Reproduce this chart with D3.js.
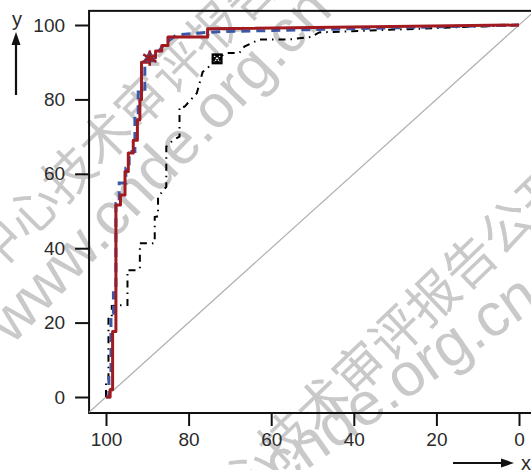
<!DOCTYPE html>
<html>
<head>
<meta charset="utf-8">
<script src="https://cdn.jsdelivr.net/npm/d3@7"></script>
<style>
  body { margin: 0; background: #fff; }
  svg { display: block; }
</style>
</head>
<body>
<div id="chart"></div>
<script>
// tick values for both axes
const xTicks = [100, 80, 60, 40, 20, 0];
const yTicks = [0, 20, 40, 60, 80, 100];

// red solid curve (x = 100 - specificity, y = sensitivity)
const redCurve = [[100,0],[99,0],[99,2],[98.4,2],[98.4,17.6],[97.6,17.6],[97.6,51.6],[96.5,51.6],
  [96.5,54.3],[95.4,54.3],[95.4,60.6],[94.6,60.6],[94.6,65.6],[93.4,65.6],[93.4,69],[92.4,69],
  [92.4,74.5],[91.8,74.5],[91.8,80],[91.4,80],[91.4,90],[89.4,90],[89.4,91.2],[88,91.2],[88,93],
  [86.5,93],[86.5,94.5],[85,94.5],[85,96.8],[75.4,96.8],[75.4,99],[0,100]];

// blue dashed curve
const blueCurve = [[100,0],[99.3,0],[99.3,6],[98.8,6],[98.8,22.5],[98.2,22.5],[98.2,28],[97.6,28],
  [97.6,52],[96.8,52],[96.8,57.5],[95.2,57.5],[95.2,61.5],[94.4,61.5],[94.4,66],[93,66],[93,76],
  [92.2,76],[92.2,82],[90.6,82],[90.6,89.5],[89.4,91],[87.5,92.5],[86.5,94],[84.5,96],[83,97.3],
  [78,97.8],[73,98.2],[0,100]];

// black dash-dot curve
const blackCurve = [[100,0],[100,4.3],[99.4,4.5],[99.4,21.6],[98.6,21.6],[98.6,24.5],[95.8,24.7],
  [94.8,24.7],[94.8,34.1],[92.6,34.1],[91.8,34.5],[91.8,41.3],[88.6,41.3],[88.2,41.5],[88.2,48.4],
  [87.4,48.6],[87.4,53.8],[85.4,56.5],[85.4,67.3],[83.8,69],[82.2,70],[82.2,78],[81,78],[78,81.7],
  [76.6,87.4],[75.4,88.4],[73.7,90.6],[70.8,92.5],[67.7,92.5],[66.5,94.2],[62.9,96.1],[55.7,96.1],
  [50.4,96.8],[48.4,98],[0,100]];

// markers (cut-off points)
const starPoint = [89.4, 91.1];
const squarePoint = [73.1, 90.9];

// reference diagonal and plot frame (data units)
const diagonal = [[104.1,-4.1],[-3.8,103.8]];
const frameX = [104.1, -4];
const frameY = [-4.3, 103.8];

const width = 531, height = 470;

const svg = d3.select("#chart")
  .append("svg")
  .attr("width", width)
  .attr("height", height);

const x = d3.scaleLinear().domain([100, 0]).range([106, 519]);
const y = d3.scaleLinear().domain([0, 100]).range([397, 25]);

// watermark (behind everything)
const wm = svg.append("g")
  .attr("fill", "#c9c9c9")
  .style("font-family", "'Noto Sans CJK SC', sans-serif");
wm.append("text")
  .attr("transform", "translate(-8,277) rotate(-45)")
  .attr("font-size", 51)
  .text("中心技术审评报告公开");
wm.append("text")
  .attr("transform", "translate(206,540) rotate(-43.7)")
  .attr("font-size", 51)
  .text("中心技术审评报告公开");
wm.append("text")
  .attr("transform", "translate(173,179) rotate(-46)")
  .attr("text-anchor", "middle")
  .attr("font-size", 61)
  .style("font-family", "'Liberation Sans', Arial, sans-serif")
  .text("www.cnde.org.cn");
wm.append("text")
  .attr("transform", "translate(352,438) rotate(-35)")
  .attr("text-anchor", "middle")
  .attr("font-size", 61)
  .style("font-family", "'Liberation Sans', Arial, sans-serif")
  .text("www.cnde.org.cn");

// frame
svg.append("rect")
  .attr("x", x(frameX[0]))
  .attr("y", y(frameY[1]))
  .attr("width", x(frameX[1]) - x(frameX[0]))
  .attr("height", y(frameY[0]) - y(frameY[1]))
  .attr("fill", "none")
  .attr("stroke", "#111")
  .attr("stroke-width", 2);

// axes
const axisFont = "'Liberation Sans', Arial, sans-serif";
const yAxis = svg.append("g")
  .attr("transform", "translate(" + x(frameX[0]) + ",0)")
  .call(d3.axisLeft(y).tickValues(yTicks).tickSize(14).tickPadding(10));
const xAxis = svg.append("g")
  .attr("transform", "translate(0," + y(frameY[0]) + ")")
  .call(d3.axisBottom(x).tickValues(xTicks).tickSize(13).tickPadding(7));
[xAxis, yAxis].forEach(function(a) {
  a.select(".domain").remove();
  a.selectAll(".tick line").attr("stroke", "#111").attr("stroke-width", 2);
  a.selectAll(".tick text")
    .attr("fill", "#2b2b2b")
    .style("font-family", axisFont)
    .style("font-size", "19px");
});

// diagonal
const line = d3.line()
  .x(function(d) { return x(d[0]); })
  .y(function(d) { return y(d[1]); });

svg.append("path")
  .attr("d", line(diagonal))
  .attr("fill", "none")
  .attr("stroke", "#b0b0b0")
  .attr("stroke-width", 1.2);

// curves
svg.append("path")
  .attr("d", line(blackCurve))
  .attr("fill", "none")
  .attr("stroke", "#000")
  .attr("stroke-width", 2)
  .attr("stroke-dasharray", "7,5,1.5,5");

svg.append("path")
  .attr("d", line(blueCurve))
  .attr("fill", "none")
  .attr("stroke", "#3a58a8")
  .attr("stroke-width", 3)
  .attr("stroke-dasharray", "9,6");

svg.append("path")
  .attr("d", line(redCurve))
  .attr("fill", "none")
  .attr("stroke", "#a11a20")
  .attr("stroke-width", 3)
  .attr("stroke-linejoin", "round");

// star marker: blue triangle under a red asterisk
svg.append("path")
  .attr("transform", "translate(" + x(starPoint[0]) + "," + y(starPoint[1]) + ")")
  .attr("d", d3.symbol(d3.symbolTriangle, 90)())
  .attr("fill", "#3a58a8");
svg.append("path")
  .attr("transform", "translate(" + x(starPoint[0]) + "," + y(starPoint[1]) + ")")
  .attr("d", d3.symbol(d3.symbolAsterisk, 160)())
  .attr("fill", "none")
  .attr("stroke", "#a11a20")
  .attr("stroke-width", 2.5);

// square marker with white cross
const sq = svg.append("g")
  .attr("transform", "translate(" + x(squarePoint[0]) + "," + y(squarePoint[1]) + ")");
sq.append("rect")
  .attr("x", -5.5).attr("y", -5.5)
  .attr("width", 11).attr("height", 11)
  .attr("fill", "#000");
sq.append("path")
  .attr("d", "M-3,-3L3,3M3,-3L-3,3")
  .attr("stroke", "#fff")
  .attr("stroke-width", 1.3)
  .attr("stroke-dasharray", "1.5,1.2");

// axis names with arrows
svg.append("text")
  .attr("x", 17).attr("y", 26)
  .attr("text-anchor", "middle")
  .attr("fill", "#2b2b2b")
  .style("font-family", axisFont)
  .style("font-size", "20px")
  .text("y");
svg.append("line")
  .attr("x1", 16).attr("y1", 95).attr("x2", 16).attr("y2", 42)
  .attr("stroke", "#111").attr("stroke-width", 2.2);
svg.append("path")
  .attr("d", "M16,32L11.5,45L20.5,45Z")
  .attr("fill", "#111");

svg.append("text")
  .attr("x", 526).attr("y", 470)
  .attr("text-anchor", "middle")
  .attr("fill", "#2b2b2b")
  .style("font-family", axisFont)
  .style("font-size", "20px")
  .text("x");
svg.append("line")
  .attr("x1", 453).attr("y1", 463).attr("x2", 503).attr("y2", 463)
  .attr("stroke", "#111").attr("stroke-width", 2.2);
svg.append("path")
  .attr("d", "M514,463L501,458.5L501,467.5Z")
  .attr("fill", "#111");
</script>
</body>
</html>
